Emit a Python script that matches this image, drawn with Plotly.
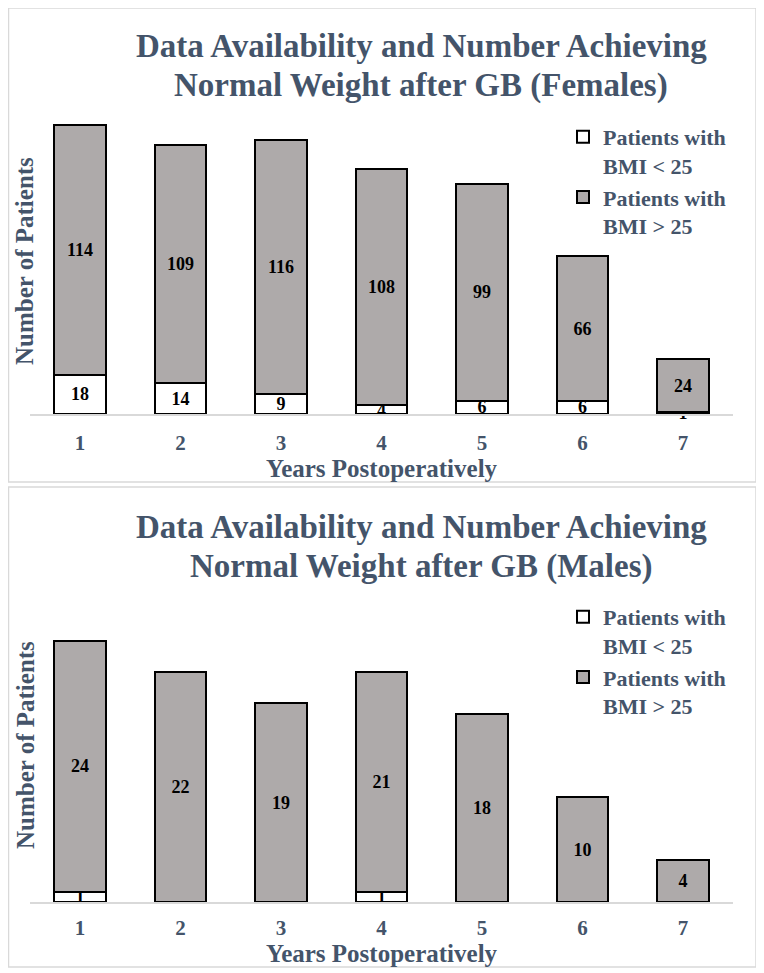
import plotly.graph_objects as go

years = ["1", "2", "3", "4", "5", "6", "7"]

female_under25 = [18, 14, 9, 4, 6, 6, 1]
female_over25 = [114, 109, 116, 108, 99, 66, 24]

male_under25 = [1, 0, 0, 1, 0, 0, 0]
male_over25 = [24, 22, 19, 21, 18, 10, 4]

name_under = "Patients with<br>BMI < 25"
name_over = "Patients with<br>BMI > 25"
title_f = ["Data Availability and Number Achieving", "Normal Weight after GB (Females)"]
title_m = ["Data Availability and Number Achieving", "Normal Weight after GB (Males)"]

W, H = 764, 973          # browser window
OFF = 8                  # default page body margin
FW, FH = W - OFF, H - OFF
TXT = "#44546A"
GRAY = "#AEAAAA"
FONT = "Liberation Serif"


def px_x(p):
    return (p - OFF) / FW


def px_y(p):
    return (H - p) / FH


def labels(vals):
    return [str(v) if v else "" for v in vals]


fig = go.Figure()

for vals, name, color, xa, ya, leg in [
    (female_under25, name_under, "#FFFFFF", "x", "y", "legend"),
    (female_over25, name_over, GRAY, "x", "y", "legend"),
    (male_under25, name_under, "#FFFFFF", "x2", "y2", "legend2"),
    (male_over25, name_over, GRAY, "x2", "y2", "legend2"),
]:
    fig.add_trace(go.Bar(
        x=years, y=vals, name=name,
        marker=dict(color=color, line=dict(color="black", width=2)),
        text=labels(vals), textposition="inside", insidetextanchor="middle",
        textangle=0, cliponaxis=False, constraintext="none",
        insidetextfont=dict(family=FONT, size=18, color="black", weight="bold"),
        xaxis=xa, yaxis=ya, legend=leg,
    ))

x_dom = [px_x(29.75), px_x(733.25)]
axis_common = dict(
    showgrid=False, zeroline=False, showline=True, linecolor="#D9D9D9", linewidth=2,
    ticks="", tickfont=dict(family=FONT, size=21, color=TXT, weight="bold"),
)
xtitle = dict(text="Years Postoperatively", standoff=3,
              font=dict(family=FONT, size=25, color=TXT, weight="bold"))

fig.update_layout(
    width=FW, height=FH, margin=dict(l=0, r=0, t=0, b=0),
    paper_bgcolor="white", plot_bgcolor="white",
    barmode="stack", bargap=0.483,
    xaxis=dict(domain=x_dom, anchor="y", title=xtitle, ticklabelstandoff=9, **axis_common),
    yaxis=dict(domain=[px_y(414), px_y(107.4)], range=[0, 140], anchor="x",
               showgrid=False, zeroline=False, showline=False, showticklabels=False),
    xaxis2=dict(domain=x_dom, anchor="y2", title=xtitle, ticklabelstandoff=6, **axis_common),
    yaxis2=dict(domain=[px_y(902), px_y(619.8)], range=[0, 27], anchor="x2",
                showgrid=False, zeroline=False, showline=False, showticklabels=False),
    legend=dict(x=px_x(563), y=px_y(116), xanchor="left", yanchor="top",
                traceorder="normal", valign="top", bgcolor="rgba(0,0,0,0)",
                font=dict(family=FONT, size=22, color=TXT, weight="bold")),
    legend2=dict(x=px_x(563), y=px_y(596), xanchor="left", yanchor="top",
                 traceorder="normal", valign="top", bgcolor="rgba(0,0,0,0)",
                 font=dict(family=FONT, size=22, color=TXT, weight="bold")),
)

# panel borders
for top, bottom in [(8, 482), (487, 967)]:
    fig.add_shape(type="rect", xref="paper", yref="paper",
                  x0=px_x(8.5), x1=px_x(756), y0=px_y(bottom), y1=px_y(top),
                  line=dict(color="#D9D9D9", width=1.5), layer="below")

# chart titles (one annotation per line)
for lines, y1 in [(title_f, 46), (title_m, 527)]:
    for i, line in enumerate(lines):
        fig.add_annotation(text=line, xref="paper", yref="paper",
                           x=px_x(421), y=px_y(y1 + 39 * i),
                           xanchor="center", yanchor="middle", showarrow=False,
                           font=dict(family=FONT, size=33, color=TXT, weight="bold"))

# y-axis titles
for yc in [261, 745]:
    fig.add_annotation(text="Number of Patients", xref="paper", yref="paper",
                       x=px_x(25), y=px_y(yc), xanchor="center", yanchor="middle",
                       textangle=-90, showarrow=False,
                       font=dict(family=FONT, size=25, color=TXT, weight="bold"))

fig.write_html("out.html")
